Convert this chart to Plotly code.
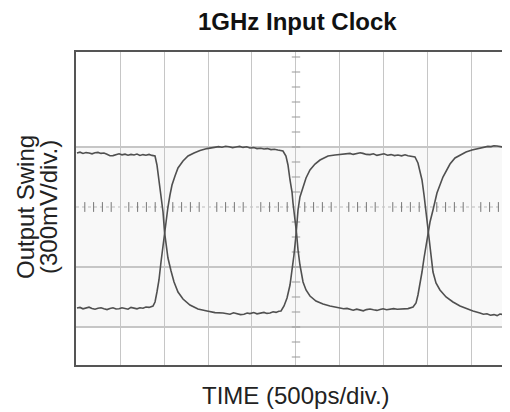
import plotly.graph_objects as go

# ---- data (time in ps, level in mV) ----
# Trace A (starts high)
t_a = ([11, 45, 80, 114, 148, 182, 216, 250, 284, 318, 352, 386, 420, 455, 489, 523, 557, 591, 625,
        659, 693, 727, 761, 795, 830, 864, 886]
       + [898, 920, 943, 966, 989, 1006, 1023, 1045, 1080, 1114, 1159, 1216, 1295, 1386, 1489, 1580]
       + [1670, 1705, 1750, 1790, 1830, 1870, 1909, 1945, 1977, 2020, 2057, 2100, 2136, 2170, 2205,
          2240, 2273, 2305, 2330]
       + [2364, 2398, 2432, 2455, 2477, 2500, 2523, 2545, 2580, 2614, 2659, 2716, 2773, 2864, 2943]
       + [3023, 3060, 3114, 3150, 3193, 3230, 3261, 3300, 3341, 3380, 3420, 3460, 3500, 3540, 3580,
          3620, 3659, 3700, 3739, 3773, 3807, 3852]
       + [3886, 3909, 3932, 3955, 3966, 3989, 4000, 4023, 4057, 4091, 4136, 4205, 4284, 4364, 4443, 4511]
       + [4591, 4630, 4670, 4710, 4750, 4785, 4818, 4850, 4875, 4905, 4932])
v_a = ([270, 274, 268, 272, 270, 266, 271, 273, 268, 270, 264, 256, 257, 262, 266, 261, 264, 259, 263,
        260, 265, 258, 262, 259, 263, 258, 255]
       + [255, 210, 135, 60, -25, -125, -195, -255, -320, -375, -425, -460, -490, -510, -520, -528]
       + [-530, -534, -536, -529, -532, -538, -536, -530, -533, -528, -534, -531, -527, -532, -530,
          -524, -527, -521, -520]
       + [-495, -455, -390, -325, -240, -140, -15, 50, 100, 145, 185, 215, 235, 255, 260]
       + [262, 266, 268, 263, 266, 271, 268, 263, 262, 266, 258, 263, 266, 259, 262,
          257, 260, 256, 261, 256, 255, 250]
       + [220, 175, 135, 60, 20, -65, -125, -215, -325, -380, -415, -450, -475, -495, -510, -520]
       + [-530, -536, -534, -541, -538, -543, -535, -538, -532, -535, -530])

# Trace B (starts low)
t_b = ([11, 45, 80, 114, 148, 182, 216, 250, 284, 318, 352, 386, 420, 455, 489, 523, 557, 591, 625,
        659, 693, 727, 761, 795, 830, 875]
       + [898, 920, 943, 966, 989, 1006, 1023, 1045, 1068, 1091, 1125, 1159, 1216, 1273, 1341, 1409, 1489]
       + [1580, 1620, 1659, 1700, 1739, 1780, 1818, 1860, 1898, 1940, 1977, 2020, 2057, 2100, 2136,
          2175, 2216, 2255, 2295, 2352]
       + [2386, 2409, 2432, 2455, 2466, 2489, 2506, 2523, 2545, 2580, 2614, 2659, 2727, 2807, 2886]
       + [3000, 3040, 3080, 3114, 3150, 3190, 3227, 3265, 3300, 3341, 3380, 3420, 3455, 3490, 3530,
          3568, 3610, 3650, 3682, 3720, 3773, 3830]
       + [3864, 3886, 3909, 3932, 3955, 3977, 4000, 4023, 4057, 4102, 4170, 4250, 4307, 4364, 4432,
          4500, 4568]
       + [4648, 4680, 4716, 4750, 4784, 4818, 4852, 4890, 4932])
v_b = ([-505, -502, -509, -506, -501, -507, -511, -506, -504, -509, -513, -507, -504, -510, -509,
        -504, -508, -511, -502, -506, -509, -504, -506, -500, -502, -495]
       + [-475, -425, -365, -275, -190, -125, -55, 0, 60, 110, 155, 195, 230, 255, 270, 282, 292]
       + [298, 302, 299, 304, 301, 297, 300, 303, 298, 301, 295, 297, 292, 294, 290,
          292, 287, 289, 285, 280]
       + [255, 210, 135, 75, 20, -55, -130, -215, -290, -375, -415, -445, -470, -485, -495]
       + [-505, -509, -507, -512, -516, -511, -515, -519, -513, -510, -514, -517, -513, -509, -514,
          -512, -508, -511, -510, -506, -508, -500]
       + [-480, -440, -390, -325, -255, -190, -125, -75, -15, 70, 150, 215, 245, 260, 275,
          285, 292]
       + [300, 303, 302, 306, 305, 301, 300, 297, 295])

x_range = [0, 4932]
y_range = [-790, 775]
ref_levels = [300, -300, -600]
time_div = 500
title_text = "1GHz Input Clock"
x_title = "TIME (500ps/div.)"
y_title_1 = "Output Swing"
y_title_2 = "(300mV/div.)"

trace_color = "#505050"
grid_color = "#c6c6c6"
font_family = "Liberation Sans, Arial, sans-serif"

fig = go.Figure()

# graticule minor ticks (decoration)
minor_x = [k * 100 for k in range(1, 50) if k % 5 != 0]
minor_y = [k * 75 for k in range(-10, 11) if k != 0]
fig.add_trace(go.Scatter(x=minor_x, y=[0] * len(minor_x), mode="markers",
                         marker=dict(symbol="line-ns-open", size=7, color="#777",
                                     line=dict(width=1, color="#777")),
                         hoverinfo="skip", showlegend=False))
fig.add_trace(go.Scatter(x=[2500] * len(minor_y), y=minor_y, mode="markers",
                         marker=dict(symbol="line-ew-open", size=6, color="#999",
                                     line=dict(width=1, color="#999")),
                         hoverinfo="skip", showlegend=False))

fig.add_trace(go.Scatter(x=t_a, y=v_a, mode="lines",
                         line=dict(color=trace_color, width=1.6), showlegend=False))
fig.add_trace(go.Scatter(x=t_b, y=v_b, mode="lines",
                         line=dict(color=trace_color, width=1.6), showlegend=False))

shapes = []
shapes.append(dict(type="rect", xref="paper", x0=0, x1=1, yref="y", y0=ref_levels[2], y1=ref_levels[0],
                   fillcolor="#f8f8f8", line=dict(width=0), layer="below"))
for lv in ref_levels:
    shapes.append(dict(type="line", xref="paper", x0=0, x1=1, yref="y", y0=lv, y1=lv,
                       line=dict(color=grid_color, width=2), layer="below"))
shapes.append(dict(type="line", xref="paper", x0=0, x1=1, yref="y", y0=0, y1=0,
                   line=dict(color="#bbbbbb", width=1, dash="dot"), layer="below"))
fig.update_layout(shapes=shapes)

annotations = [
    dict(text="<b>" + title_text + "</b>", xref="x", x=2520, yref="paper", y=1,
         yanchor="middle", yshift=31, showarrow=False,
         font=dict(size=24, color="#111", family=font_family)),
    dict(text=x_title, xref="x", x=2500, yref="paper", y=0,
         yanchor="middle", yshift=-30, showarrow=False,
         font=dict(size=24, color="#222", family=font_family)),
    dict(text=y_title_1, xref="paper", x=0, yref="y", y=0, xanchor="center",
         xshift=-51, textangle=-90, showarrow=False,
         font=dict(size=24, color="#222", family=font_family)),
    dict(text=y_title_2, xref="paper", x=0, yref="y", y=0, xanchor="center",
         xshift=-28, textangle=-90, showarrow=False,
         font=dict(size=24, color="#222", family=font_family)),
]

# page has an 8px default body margin: figure is offset by it
fig.update_layout(
    width=502, height=404,
    margin=dict(l=68, r=0, t=44, b=47),
    paper_bgcolor="white", plot_bgcolor="white",
    annotations=annotations,
    xaxis=dict(range=x_range, tick0=0, dtick=time_div, showgrid=True, gridcolor=grid_color,
               gridwidth=1, showticklabels=False, ticks="", zeroline=False,
               showline=True, linecolor="#555", linewidth=2, mirror=True, fixedrange=True),
    yaxis=dict(range=y_range, showgrid=False, showticklabels=False, ticks="", zeroline=False,
               showline=True, linecolor="#555", linewidth=2, mirror=False, fixedrange=True),
)

fig.write_html("out.html")
